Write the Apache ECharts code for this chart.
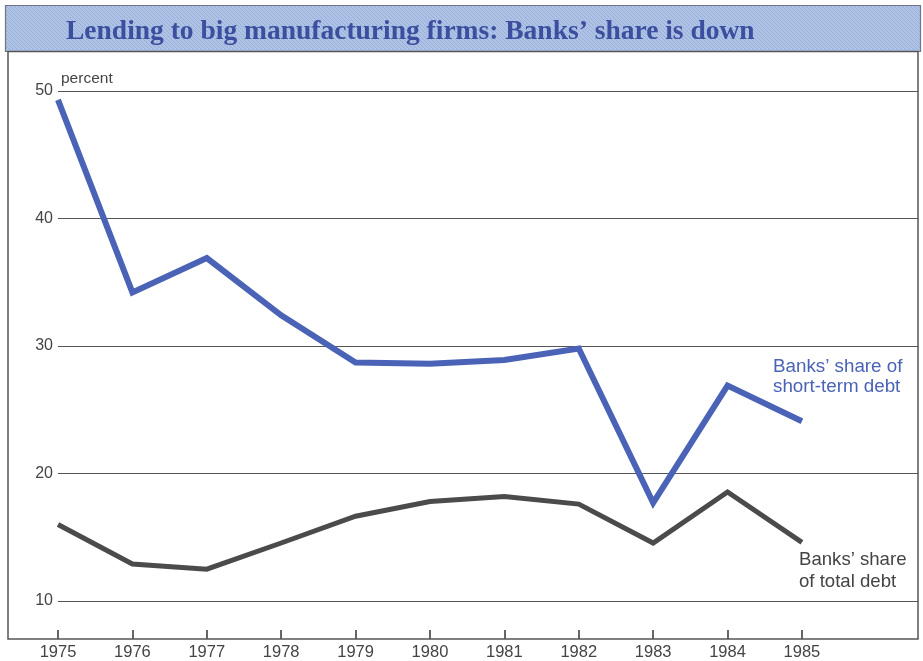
<!DOCTYPE html>
<html>
<head>
<meta charset="utf-8">
<script src="https://cdn.jsdelivr.net/npm/echarts@6/dist/echarts.min.js"></script>
<style>
  html, body { margin: 0; padding: 0; background: #fff; }
  #chart { width: 923px; height: 661px; }
</style>
</head>
<body>
<div id="chart"></div>
<script>
// years on the x axis
const years = [1975, 1976, 1977, 1978, 1979, 1980, 1981, 1982, 1983, 1984, 1985]
// banks' share of short-term debt, percent
const shortTermDebt = [49.3, 34.2, 36.9, 32.4, 28.7, 28.6, 28.9, 29.8, 17.7, 26.9, 24.1]
// banks' share of total debt, percent
const totalDebt = [16.0, 12.9, 12.5, 14.55, 16.65, 17.8, 18.2, 17.6, 14.55, 18.55, 14.6]
const yTicks = [10, 20, 30, 40, 50]

const chart = echarts.init(document.getElementById('chart'))

// small diagonal hatch for the title band
const hatch = document.createElement('canvas')
hatch.width = 4
hatch.height = 4
const hctx = hatch.getContext('2d')
hctx.fillStyle = '#aec2e6'
hctx.fillRect(0, 0, 4, 4)
hctx.fillStyle = '#9bb0d8'
hctx.fillRect(0, 0, 1, 1)
hctx.fillRect(1, 1, 1, 1)
hctx.fillRect(2, 2, 1, 1)
hctx.fillRect(3, 3, 1, 1)

const pair = (xs, ys) => xs.map((x, i) => [x, ys[i]])

chart.setOption({
  animation: false,
  backgroundColor: '#fff',
  title: {
    text: 'Lending to big manufacturing firms: Banks\u2019 share is down',
    left: 61,
    top: 13,
    textStyle: {
      fontFamily: 'Liberation Serif',
      fontWeight: 'bold',
      fontSize: 27.5,
      color: '#3c4f9e'
    }
  },
  graphic: [
    {
      type: 'rect',
      z: -10,
      shape: { x: 5.5, y: 5.5, width: 915, height: 46 },
      style: { fill: { image: hatch, repeat: 'repeat' }, stroke: '#6f7480', lineWidth: 1.2 }
    },
    {
      type: 'rect',
      z: -10,
      shape: { x: 8, y: 51.5, width: 910, height: 587.5 },
      style: { fill: 'none', stroke: '#555', lineWidth: 1.5 }
    },
    {
      type: 'text',
      left: 773,
      top: 357,
      style: {
        text: 'Banks\u2019 share of\nshort-term debt',
        fill: '#4a63b6',
        font: '18.8px "Liberation Sans", Arial, sans-serif',
        lineHeight: 20
      }
    },
    {
      type: 'text',
      left: 799,
      top: 549,
      style: {
        text: 'Banks\u2019 share\nof total debt',
        fill: '#444',
        font: '18.6px "Liberation Sans", Arial, sans-serif',
        lineHeight: 22
      }
    }
  ],
  grid: {
    left: 58,
    right: 5,
    top: 91,
    bottom: 60
  },
  xAxis: {
    type: 'value',
    min: 1975,
    max: 1986.56,
    offset: 38,
    axisLine: { show: false },
    splitLine: { show: false },
    axisTick: {
      show: true,
      inside: true,
      length: 9,
      customValues: years,
      lineStyle: { color: '#555', width: 1.8 }
    },
    axisLabel: {
      customValues: years,
      margin: 5,
      fontSize: 16.5,
      color: '#444',
      fontFamily: 'Liberation Sans',
      formatter: v => String(v)
    }
  },
  yAxis: {
    type: 'value',
    min: 10,
    max: 50,
    interval: 10,
    name: 'percent',
    nameLocation: 'end',
    nameGap: 4,
    nameTextStyle: {
      align: 'left',
      padding: [0, 0, 0, 3],
      fontSize: 15.5,
      color: '#444',
      fontFamily: 'Liberation Sans'
    },
    axisLine: { show: false },
    axisTick: { show: false },
    splitLine: { lineStyle: { color: '#555', width: 1.2 } },
    axisLabel: {
      customValues: yTicks,
      margin: 5,
      fontSize: 16,
      color: '#444',
      fontFamily: 'Liberation Sans'
    }
  },
  series: [
    {
      name: 'Banks\u2019 share of short-term debt',
      type: 'line',
      data: pair(years, shortTermDebt),
      symbol: 'none',
      lineStyle: { color: '#4a63b6', width: 6, join: 'miter' }
    },
    {
      name: 'Banks\u2019 share of total debt',
      type: 'line',
      data: pair(years, totalDebt),
      symbol: 'none',
      lineStyle: { color: '#4b4b4b', width: 5, join: 'miter' }
    }
  ]
})
</script>
</body>
</html>
